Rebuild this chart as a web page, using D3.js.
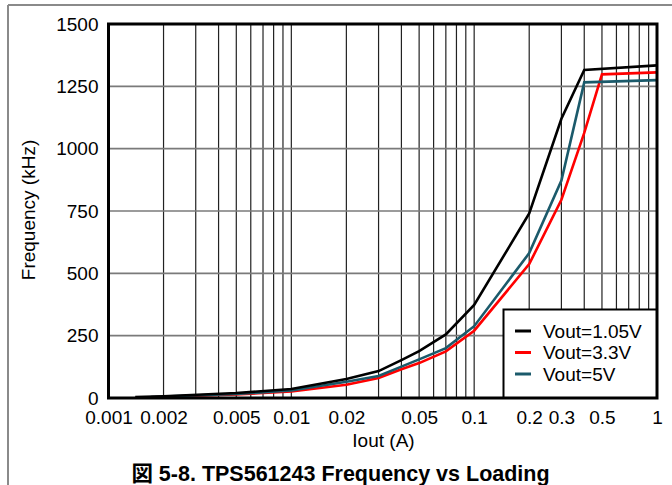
<!DOCTYPE html>
<html><head><meta charset="utf-8">
<script src="https://cdn.jsdelivr.net/npm/d3@7"></script>
<style>body{margin:0;background:#fff;} text{font-family:"Liberation Sans",Arial,"Noto Sans CJK JP",sans-serif;}</style>
</head><body>
<svg id="c" width="672" height="485"></svg>
<script>
const seriesNames = ["Vout=1.05V", "Vout=3.3V", "Vout=5V"];
const seriesColors = ["#000000", "#ff0000", "#1b5a6b"];
const loadV105 = [0.0014, 0.002, 0.005, 0.01, 0.02, 0.03, 0.04, 0.05, 0.07, 0.1, 0.2, 0.3, 0.4, 1];
const freqV105 = [4, 7, 20, 36, 76, 108, 152, 188, 255, 373, 740, 1120, 1316, 1334];
const loadV33 = [0.0017, 0.002, 0.005, 0.01, 0.02, 0.03, 0.04, 0.05, 0.07, 0.1, 0.2, 0.3, 0.4, 0.5, 1];
const freqV33 = [3, 5, 14, 26, 53, 80, 115, 140, 187, 270, 537, 795, 1063, 1298, 1306];
const loadV5 = [0.0017, 0.002, 0.005, 0.01, 0.02, 0.03, 0.04, 0.05, 0.07, 0.1, 0.2, 0.3, 0.4, 1];
const freqV5 = [4, 6, 16, 30, 65, 88, 126, 155, 200, 288, 581, 872, 1266, 1275];
const xTicks = [0.001, 0.002, 0.005, 0.01, 0.02, 0.05, 0.1, 0.2, 0.3, 0.5, 1];
const yTicks = [0, 250, 500, 750, 1000, 1250, 1500];

const FS = 19;
const svg = d3.select("#c");
const L = 108.5, R = 657, T = 24, B = 398;
const x = d3.scaleLog().domain([0.001, 1]).range([L, R]);
const y = d3.scaleLinear().domain([0, 1500]).range([B, T]);

// outer frame
svg.append("line").attr("x1", 8).attr("x2", 672).attr("y1", 5).attr("y2", 5).attr("stroke", "#8a8a8a").attr("stroke-width", 2);
svg.append("line").attr("x1", 8).attr("x2", 8).attr("y1", 5).attr("y2", 485).attr("stroke", "#8a8a8a").attr("stroke-width", 2);

// vertical grid
const minor = [];
[0.001, 0.01, 0.1].forEach(d => { for (let k = 1; k <= 9; k++) minor.push(d * k); });
minor.push(1);
svg.append("g").selectAll("line").data(minor).join("line")
  .attr("x1", d => x(d)).attr("x2", d => x(d)).attr("y1", T).attr("y2", B)
  .attr("stroke", "#222").attr("stroke-width", 1.2);
// horizontal grid
svg.append("g").selectAll("line").data(yTicks).join("line")
  .attr("x1", L).attr("x2", R).attr("y1", d => y(d)).attr("y2", d => y(d))
  .attr("stroke", "#7a7a7a").attr("stroke-width", 1.6);

// axes labels
const yAxis = d3.axisLeft(y).tickValues(yTicks).tickSize(0).tickPadding(10).tickFormat(d3.format("d"));
const ga = svg.append("g").attr("transform", `translate(${L},0)`).call(yAxis);
ga.select(".domain").remove();
ga.attr("font-size", FS);
ga.selectAll("text").attr("fill", "#000");

const xAxis = d3.axisBottom(x).tickValues(xTicks).tickSize(0).tickPadding(13).tickFormat(d => String(d));
const gx = svg.append("g").attr("transform", `translate(0,${B})`).call(xAxis);
gx.select(".domain").remove();
gx.attr("font-size", FS);
gx.selectAll("text").attr("fill", "#000");

// curves
const line = d3.line().x(d => x(d[0])).y(d => y(d[1]));
const series = [
  [loadV105, freqV105],
  [loadV33, freqV33],
  [loadV5, freqV5]
];
const drawOrder = [1, 2, 0];
drawOrder.forEach(i => {
  const pts = series[i][0].map((v, j) => [v, series[i][1][j]]);
  svg.append("path").attr("d", line(pts)).attr("fill", "none")
    .attr("stroke", seriesColors[i]).attr("stroke-width", 2.6).attr("stroke-linejoin", "miter");
});

// legend
const lg = svg.append("g");
lg.append("rect").attr("x", 503.5).attr("y", 309.5).attr("width", R - 503.5).attr("height", B - 309.5)
  .attr("fill", "#fff").attr("stroke", "#000").attr("stroke-width", 2);
seriesNames.forEach((n, i) => {
  const yy = 331 + i * 21.5;
  lg.append("line").attr("x1", 515).attr("x2", 531).attr("y1", yy).attr("y2", yy)
    .attr("stroke", seriesColors[i]).attr("stroke-width", 3);
  lg.append("text").attr("x", 543).attr("y", yy + 6.5).attr("font-size", FS).text(n);
});
// plot border
svg.append("rect").attr("x", L).attr("y", T).attr("width", R - L).attr("height", B - T)
  .attr("fill", "none").attr("stroke", "#000").attr("stroke-width", 3);

// titles
svg.append("text").attr("x", 383.5).attr("y", 447).attr("text-anchor", "middle").attr("font-size", FS).text("Iout (A)");
svg.append("text").attr("transform", "translate(35,210) rotate(-90)").attr("text-anchor", "middle").attr("font-size", FS).text("Frequency (kHz)");
svg.append("text").attr("x", 340.5).attr("y", 481).attr("text-anchor", "middle").attr("font-size", 21.5).attr("font-weight", "bold")
  .text("図 5-8. TPS561243 Frequency vs Loading");
</script>
</body></html>
